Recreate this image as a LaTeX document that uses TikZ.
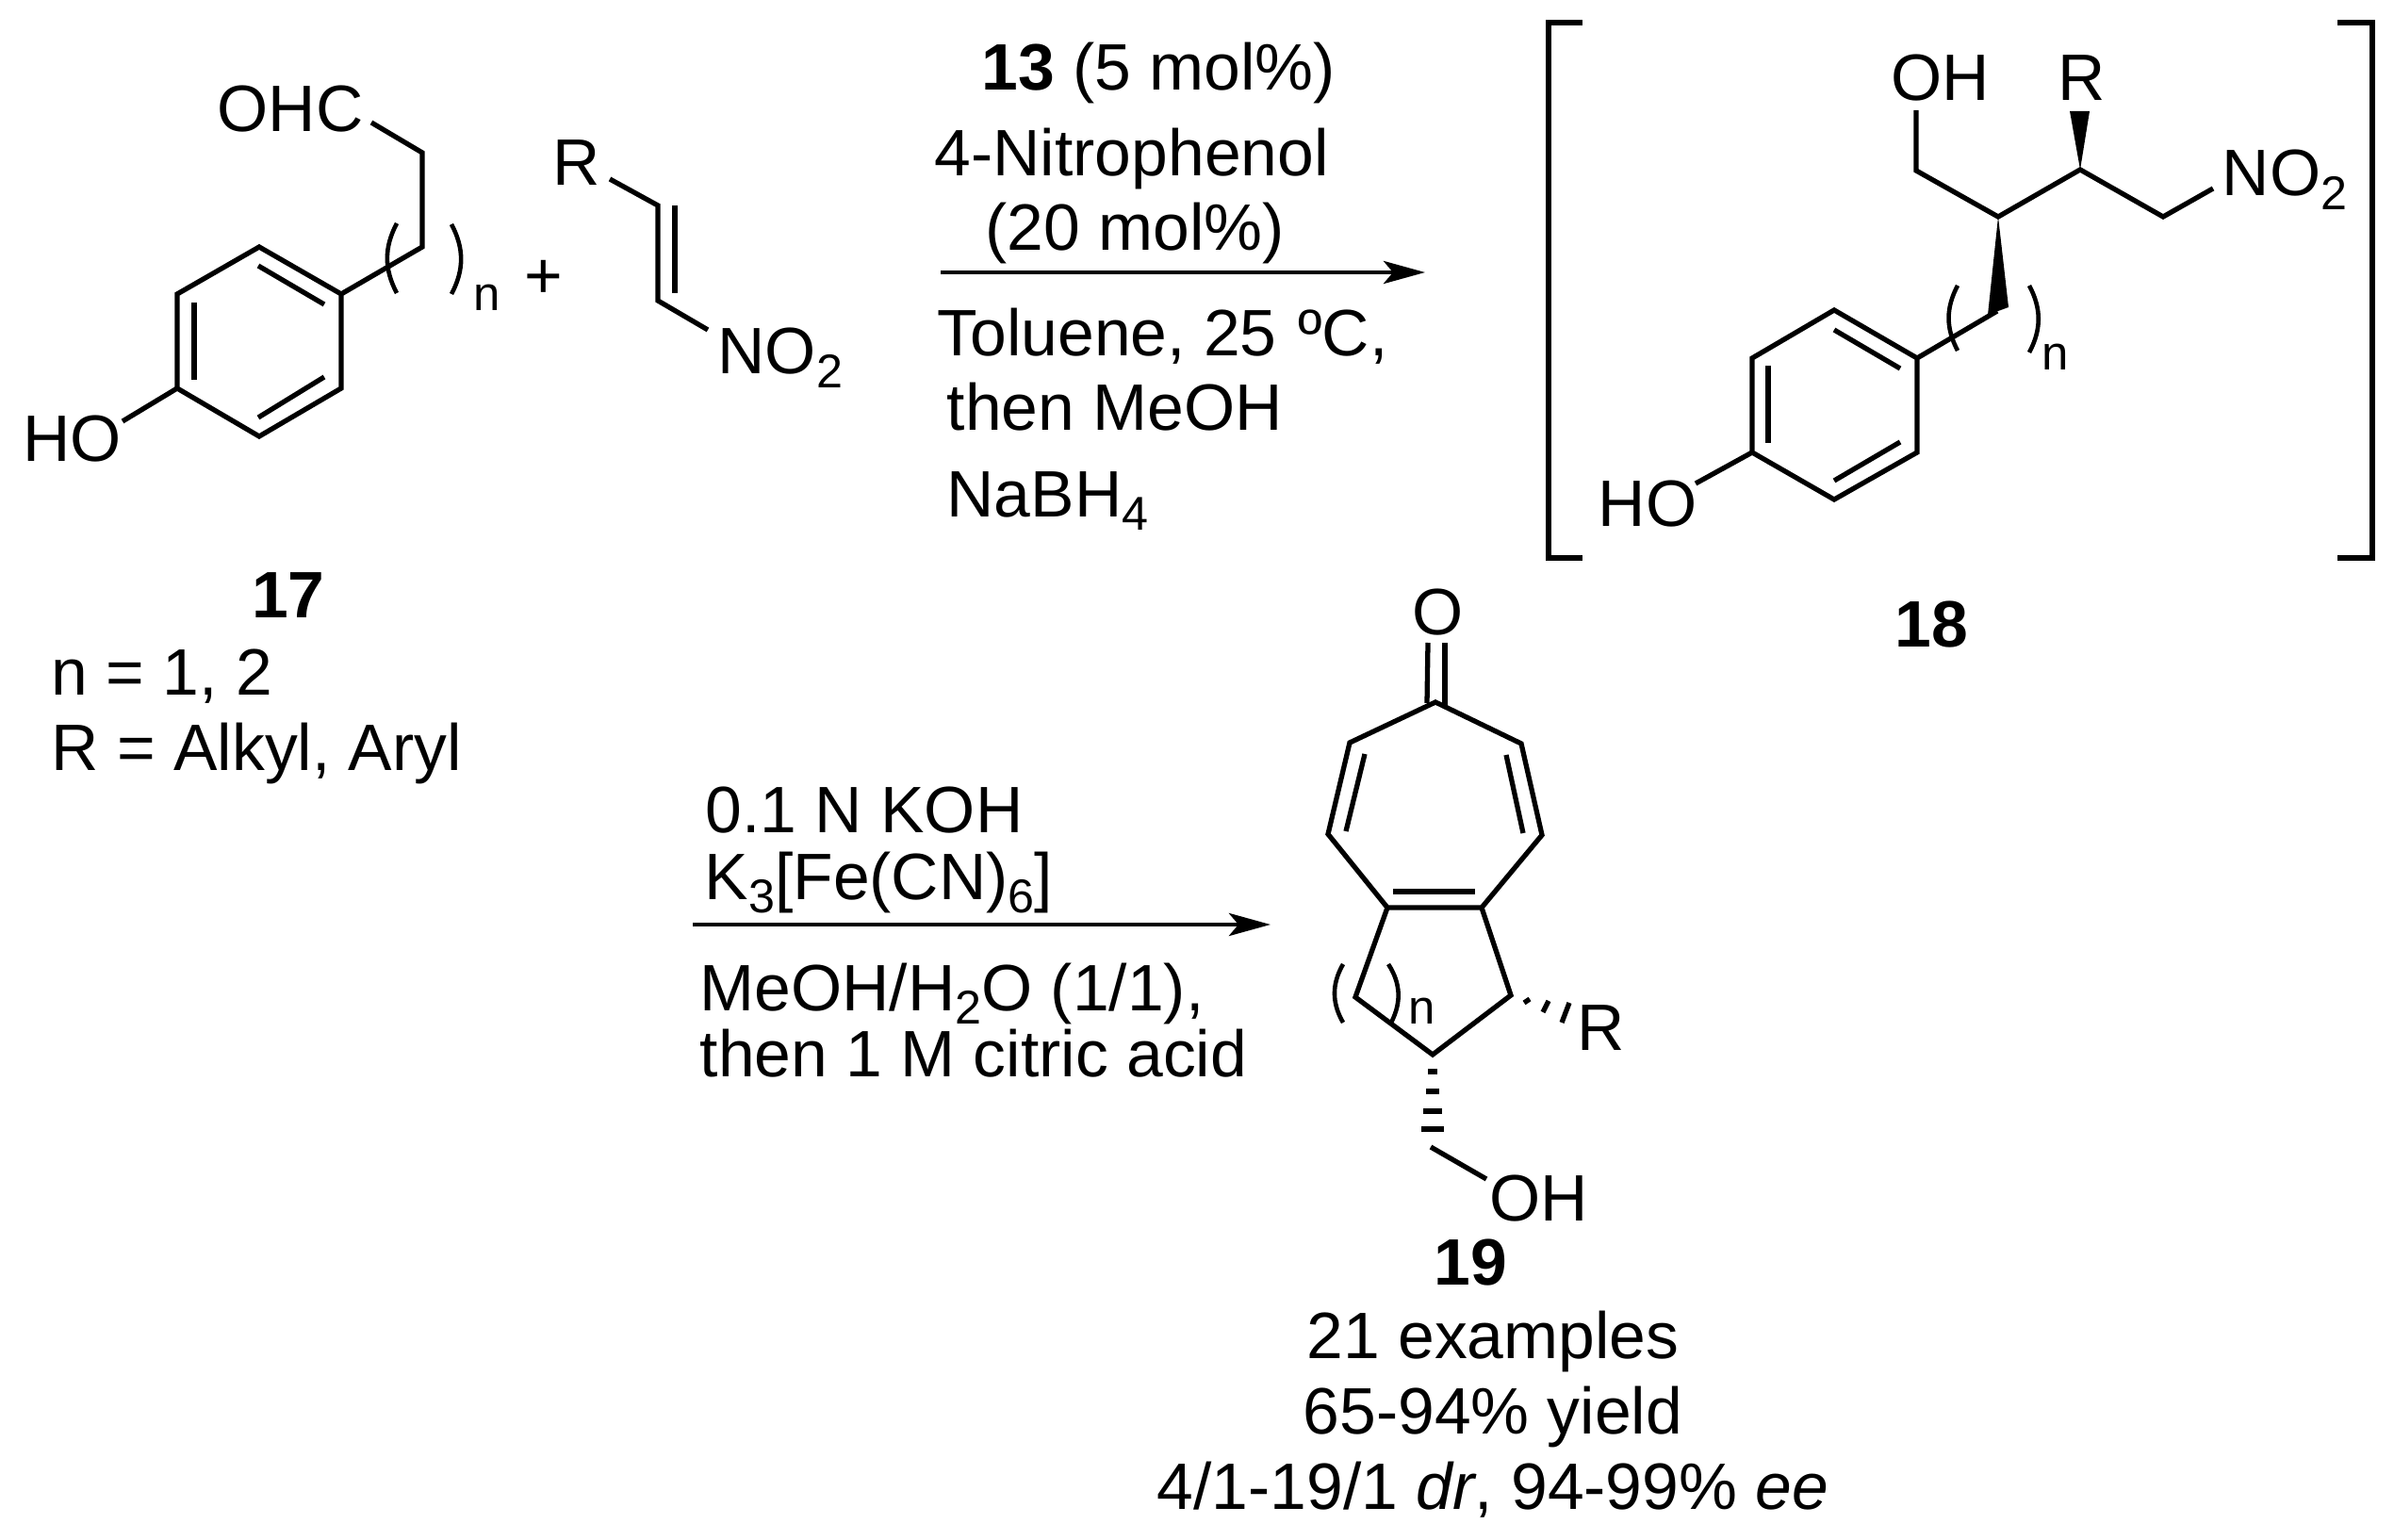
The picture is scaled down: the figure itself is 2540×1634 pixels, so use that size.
\documentclass[tikz,border=0pt]{standalone}
\usepackage{fontspec}
\setmainfont{Liberation Sans}
\usetikzlibrary{arrows.meta}
\newcommand{\lowidx}[1]{\raisebox{-4.25pt}{\fontsize{14.3}{16}\selectfont #1}}

\begin{document}
\begin{tikzpicture}[
      x=0.01cm, y=-0.01cm,
      txt/.style={anchor=base west, inner sep=0pt, font=\fontsize{19.8}{24}\selectfont},
      mid/.style={txt, anchor=base},
      num/.style={mid, font=\fontsize{19.8}{24}\selectfont\bfseries},
      idx/.style={anchor=base west, inner sep=0pt, font=\fontsize{14.5}{16}\selectfont},
      bond/.style={line width=1.5pt, line join=miter, line cap=butt},
      paren/.style={line width=1.3pt},
      rxn/.style={line width=1.35pt, -{Stealth[length=0.44cm,width=0.24cm,inset=0.1cm]}},
      ]
      \useasboundingbox (0,0) rectangle (2540,1634);

      % compound 17
      \coordinate (a1) at (394,130);
      \coordinate (a2) at (448,162);
      \coordinate (a3) at (448,262);
      \coordinate (a4) at (362,312);
      \coordinate (a5) at (275,262);
      \coordinate (a6) at (188,312);
      \coordinate (a7) at (188,412);
      \coordinate (a8) at (275,463);
      \coordinate (a9) at (362,412);
      \coordinate (a10) at (130,447);
      \coordinate (a11) at (206,321);
      \coordinate (a12) at (206,403);
      \coordinate (a13) at (274,282);
      \coordinate (a14) at (344,323);
      \coordinate (a15) at (274,443);
      \coordinate (a16) at (344,400);
      \coordinate (a17) at (421,237);
      \coordinate (a18) at (421,311);
      \coordinate (a19) at (479,238);
      \coordinate (a20) at (479,312);
      \node[txt] (ohc) at (230,140) {OHC};
      \node[txt] (ho1) at (24,490) {HO};
      \node[idx] (n1) at (502,330) {n};
      \node[mid] (plus) at (577,317) {+};

      % nitroalkene
      \coordinate (d1) at (647,190);
      \coordinate (d2) at (698,218);
      \coordinate (d3) at (698,319);
      \coordinate (d4) at (751,350);
      \coordinate (d5) at (716,218);
      \coordinate (d6) at (716,311);
      \node[txt] (r1) at (586,197) {R};
      \node[txt] (no1) at (761,397) {NO\lowidx{2}};

      % conditions, upper arrow
      \coordinate (e1) at (998,289);
      \coordinate (e2) at (1512,289);
      \node[txt] (t1) at (1041,96) {\textbf{13} (5 mol\%)};
      \node[txt] (t2) at (991,187) {4-Nitrophenol};
      \node[txt] (t3) at (1045,266) {(20 mol\%)};
      \node[txt] (t4) at (994,378) {Toluene, 25 \kern1pt ºC,};
      \node[txt] (t5) at (1004,457) {then MeOH};
      \node[txt] (t6) at (1004,548) {NaBH\lowidx{4}};

      % compound 18
      \coordinate (b1) at (2033,117);
      \coordinate (b2) at (2033,181);
      \coordinate (b3) at (2120,230);
      \coordinate (b4) at (2207,180);
      \coordinate (b5) at (2295,230);
      \coordinate (b6) at (2348,200);
      \coordinate (b7) at (2196,118);
      \coordinate (b8) at (2217,118);
      \coordinate (b9) at (2109,334);
      \coordinate (b10) at (2131,326);
      \coordinate (b11) at (2119,330);
      \coordinate (b12) at (2034,380);
      \coordinate (b13) at (1946,329);
      \coordinate (b14) at (1859,380);
      \coordinate (b15) at (1859,480);
      \coordinate (b16) at (1946,530);
      \coordinate (b17) at (2034,480);
      \coordinate (b18) at (1799,513);
      \coordinate (b19) at (1876,388);
      \coordinate (b20) at (1876,470);
      \coordinate (b21) at (1946,350);
      \coordinate (b22) at (2016,391);
      \coordinate (b23) at (1946,510);
      \coordinate (b24) at (2016,469);
      \coordinate (b25) at (2077,303);
      \coordinate (b26) at (2077,372);
      \coordinate (b27) at (2153,303);
      \coordinate (b28) at (2153,374);
      \node[txt] (oh2) at (2006,107) {OH};
      \node[txt] (r2) at (2183,107) {R};
      \node[txt] (no2) at (2357,208) {NO\lowidx{2}};
      \node[txt] (ho2) at (1695,558) {HO};
      \node[idx] (n2) at (2166,393) {n};

      % brackets
      \coordinate (k1) at (1679,24);
      \coordinate (k2) at (1643,24);
      \coordinate (k3) at (1643,592);
      \coordinate (k4) at (1679,592);
      \coordinate (k5) at (2480,24);
      \coordinate (k6) at (2517,24);
      \coordinate (k7) at (2517,592);
      \coordinate (k8) at (2480,592);

      % labels
      \node[num] (l17) at (306,655) {17};
      \node[num] (l18) at (2049,686) {18};
      \node[txt] (s1) at (54,737) {n = 1, 2};
      \node[txt] (s2) at (54,817) {R = Alkyl, Aryl};

      % conditions, lower arrow
      \coordinate (f1) at (735,981);
      \coordinate (f2) at (1348,981);
      \node[txt] (u1) at (748,883) {0.1 N KOH};
      \node[txt] (u2) at (747,954) {K\lowidx{3}[Fe(CN)\lowidx{6}]};
      \node[txt] (u3) at (742,1072) {MeOH/H\lowidx{2}O (1/1),};
      \node[txt] (u4) at (742,1142) {then 1 M citric acid};

      % compound 19
      \coordinate (c1) at (1523,745);
      \coordinate (c2) at (1432,788);
      \coordinate (c3) at (1409,885);
      \coordinate (c4) at (1472,963);
      \coordinate (c5) at (1572,963);
      \coordinate (c6) at (1636,886);
      \coordinate (c7) at (1614,789);
      \coordinate (c8) at (1438,1058);
      \coordinate (c9) at (1520,1119);
      \coordinate (c10) at (1603,1056);
      \coordinate (c11) at (1515,682);
      \coordinate (c12) at (1514,746);
      \coordinate (c13) at (1533,682);
      \coordinate (c14) at (1533,749);
      \coordinate (c15) at (1448,800);
      \coordinate (c16) at (1428,882);
      \coordinate (c17) at (1598,801);
      \coordinate (c18) at (1616,884);
      \coordinate (c19) at (1478,946);
      \coordinate (c20) at (1565,946);
      \coordinate (c21) at (1425,1023);
      \coordinate (c22) at (1425,1085);
      \coordinate (c23) at (1473,1023);
      \coordinate (c24) at (1476,1085);
      \coordinate (c25) at (1518,1217);
      \coordinate (c26) at (1577,1251);
      \node[txt] (o3) at (1498,673) {O};
      \node[txt] (r3) at (1673,1114) {R};
      \node[txt] (oh3) at (1580,1295) {OH};
      \node[idx] (n3) at (1494,1086) {n};
      \node[num] (l19) at (1560,1363) {19};
      \node[mid] (v1) at (1584,1441) {21 examples};
      \node[mid] (v2) at (1584,1521) {65-94\% yield};
      \node[mid] (v3) at (1584,1601) {4/1-19/1 \textit{dr}, 94-99\% \textit{ee}};

      % Connect the atoms
      \draw[bond] (a1) -- (a2) -- (a3) -- (a4) -- (a5) -- (a6) -- (a7) -- (a8) -- (a9) -- (a4);
      \draw[bond] (a7) -- (a10);
      \draw[bond] (a11) -- (a12);
      \draw[bond] (a13) -- (a14);
      \draw[bond] (a15) -- (a16);
      \draw[paren] (a17) to[bend right=28] (a18);
      \draw[paren] (a19) to[bend left=28] (a20);

      \draw[bond] (d1) -- (d2) -- (d3) -- (d4);
      \draw[bond] (d5) -- (d6);

      \draw[bond] (b1) -- (b2) -- (b3) -- (b4) -- (b5) -- (b6);
      \fill (b4) -- (b7) -- (b8) -- cycle;
      \fill (b3) -- (b9) -- (b10) -- cycle;
      \draw[bond] (b11) -- (b12) -- (b13) -- (b14) -- (b15) -- (b16) -- (b17) -- (b12);
      \draw[bond] (b15) -- (b18);
      \draw[bond] (b19) -- (b20);
      \draw[bond] (b21) -- (b22);
      \draw[bond] (b23) -- (b24);
      \draw[paren] (b25) to[bend right=28] (b26);
      \draw[paren] (b27) to[bend left=28] (b28);
      \draw[bond] (k1) -- (k2) -- (k3) -- (k4);
      \draw[bond] (k5) -- (k6) -- (k7) -- (k8);

      \draw[bond] (c4) -- (c3) -- (c2) -- (c1) -- (c7) -- (c6) -- (c5) -- (c4) -- (c8) -- (c9) -- (c10) -- (c5);
      \draw[bond] (c11) -- (c12);
      \draw[bond] (c13) -- (c14);
      \draw[bond] (c15) -- (c16);
      \draw[bond] (c17) -- (c18);
      \draw[bond] (c19) -- (c20);
      \draw[paren] (c21) to[bend right=30] (c22);
      \draw[paren] (c23) to[bend left=30] (c24);
      \draw[bond] (c25) -- (c26);
      % hashed bonds
      \foreach \y/\w in {1137/5,1158/7,1179/10,1198/12}
        \draw[bond] ({1520-\w},\y) -- ({1520+\w},\y);
      \draw[bond] (1617,1064) -- (1623,1060);
      \draw[bond] (1637,1074) -- (1643,1062);
      \draw[bond] (1657,1085) -- (1665,1064);

      \draw[rxn] (e1) -- (e2);
      \draw[rxn] (f1) -- (f2);

\end{tikzpicture}
\end{document}
